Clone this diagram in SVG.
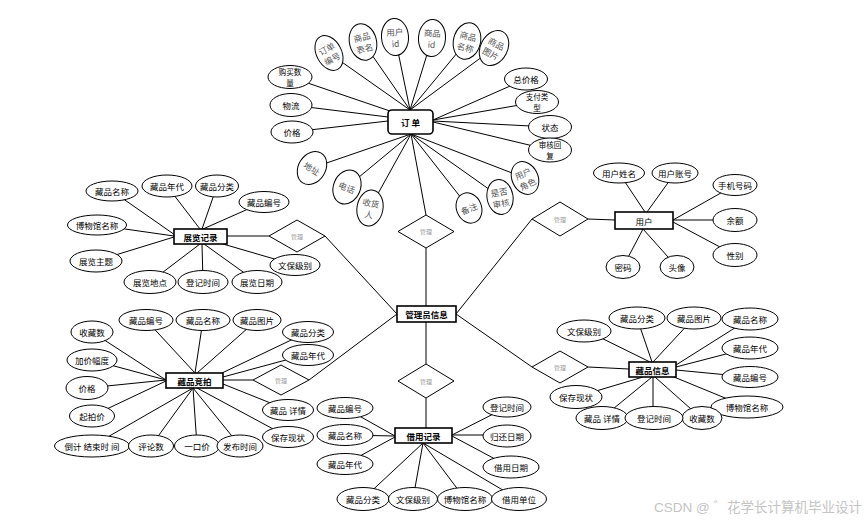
<svg xmlns="http://www.w3.org/2000/svg" width="866" height="521" viewBox="0 0 866 521">
<style>
.e{fill:#fff;stroke:#000;stroke-width:1}
.b{fill:#fff;stroke:#000;stroke-width:1.6}
.d{fill:#fff;stroke:#000;stroke-width:1}
.c line{stroke:#000;stroke-width:1}
text{font-family:"Noto Sans CJK SC","Noto Sans",sans-serif;font-size:8.5px;text-anchor:middle;dominant-baseline:central;fill:#000}
.g{fill:#555;font-size:8.5px}
.s2{font-size:7.5px}
.bt{font-weight:bold;font-size:8.5px}
.dt{fill:#999;font-size:6px}
.wm{font-family:"Liberation Sans","Noto Sans CJK SC",sans-serif;font-size:13.5px;fill:#c4c4c4;text-anchor:end;dominant-baseline:auto}
</style>
<rect width="866" height="521" fill="#fff"/>
<g id="connectors" class="c">
<line x1="329" y1="53" x2="410" y2="110"/>
<line x1="363" y1="42" x2="410" y2="110"/>
<line x1="395" y1="37" x2="410" y2="110"/>
<line x1="432" y1="38" x2="410" y2="110"/>
<line x1="467" y1="41" x2="410" y2="110"/>
<line x1="494" y1="48" x2="410" y2="110"/>
<line x1="290" y1="77" x2="390" y2="111"/>
<line x1="291" y1="105" x2="388" y2="117"/>
<line x1="292" y1="132" x2="388" y2="121"/>
<line x1="526" y1="79" x2="433" y2="120"/>
<line x1="537" y1="102" x2="433" y2="120"/>
<line x1="550" y1="127" x2="433" y2="121"/>
<line x1="550" y1="150" x2="433" y2="122"/>
<line x1="312" y1="168" x2="411" y2="134"/>
<line x1="347" y1="187" x2="411" y2="134"/>
<line x1="370" y1="208" x2="411" y2="134"/>
<line x1="469" y1="208" x2="411" y2="134"/>
<line x1="500" y1="197" x2="411" y2="134"/>
<line x1="525" y1="178" x2="411" y2="134"/>
<line x1="411" y1="134" x2="426" y2="215"/>
<line x1="426" y1="248" x2="426" y2="306"/>
<line x1="426" y1="322" x2="426" y2="364"/>
<line x1="426" y1="398" x2="426" y2="428"/>
<line x1="456" y1="314" x2="532" y2="219"/>
<line x1="456" y1="314" x2="532" y2="367"/>
<line x1="397" y1="314" x2="325" y2="236"/>
<line x1="397" y1="314" x2="309" y2="380"/>
<line x1="112" y1="191" x2="175" y2="235"/>
<line x1="167" y1="186" x2="200" y2="229"/>
<line x1="217" y1="186" x2="202" y2="229"/>
<line x1="264" y1="202" x2="203" y2="229"/>
<line x1="97" y1="225" x2="174" y2="236"/>
<line x1="96" y1="261" x2="174" y2="237"/>
<line x1="150" y1="282" x2="200" y2="244"/>
<line x1="203" y1="282" x2="202" y2="244"/>
<line x1="257" y1="282" x2="204" y2="244"/>
<line x1="295" y1="265" x2="223" y2="244"/>
<line x1="227" y1="236" x2="269" y2="236"/>
<line x1="92" y1="332" x2="166" y2="380"/>
<line x1="146" y1="320" x2="195" y2="373"/>
<line x1="203" y1="320" x2="195" y2="373"/>
<line x1="257" y1="320" x2="197" y2="373"/>
<line x1="308" y1="332" x2="222" y2="373"/>
<line x1="308" y1="354" x2="223" y2="377"/>
<line x1="92" y1="360" x2="166" y2="380"/>
<line x1="87" y1="388" x2="166" y2="380"/>
<line x1="92" y1="416" x2="166" y2="381"/>
<line x1="92" y1="446" x2="193" y2="388"/>
<line x1="151" y1="446" x2="193" y2="388"/>
<line x1="197" y1="446" x2="193" y2="388"/>
<line x1="240" y1="446" x2="193" y2="388"/>
<line x1="288" y1="410" x2="223" y2="384"/>
<line x1="288" y1="437" x2="197" y2="388"/>
<line x1="223" y1="380" x2="253" y2="380"/>
<line x1="345" y1="408" x2="395" y2="436"/>
<line x1="345" y1="435" x2="395" y2="436"/>
<line x1="345" y1="464" x2="395" y2="437"/>
<line x1="363" y1="499" x2="423" y2="443"/>
<line x1="413" y1="499" x2="423" y2="443"/>
<line x1="465" y1="499" x2="423" y2="443"/>
<line x1="518" y1="499" x2="423" y2="443"/>
<line x1="507" y1="407" x2="452" y2="435"/>
<line x1="507" y1="435" x2="452" y2="435"/>
<line x1="510" y1="467" x2="452" y2="436"/>
<line x1="588" y1="219" x2="615" y2="220"/>
<line x1="619" y1="173" x2="645" y2="212"/>
<line x1="675" y1="173" x2="647" y2="212"/>
<line x1="735" y1="185" x2="673" y2="220"/>
<line x1="735" y1="220" x2="673" y2="220"/>
<line x1="735" y1="255" x2="673" y2="222"/>
<line x1="623" y1="267" x2="643" y2="229"/>
<line x1="677" y1="267" x2="643" y2="229"/>
<line x1="588" y1="367" x2="629" y2="369"/>
<line x1="587" y1="331" x2="650" y2="362"/>
<line x1="637" y1="318" x2="652" y2="362"/>
<line x1="694" y1="318" x2="653" y2="362"/>
<line x1="749" y1="319" x2="676" y2="365"/>
<line x1="749" y1="348" x2="676" y2="367"/>
<line x1="749" y1="377" x2="676" y2="370"/>
<line x1="747" y1="407" x2="674" y2="377"/>
<line x1="576" y1="397" x2="643" y2="377"/>
<line x1="602" y1="418" x2="652" y2="377"/>
<line x1="653" y1="418" x2="653" y2="377"/>
<line x1="701" y1="418" x2="655" y2="377"/>
</g>

<g id="order">
<rect class="b" x="388" y="110" width="45" height="24" rx="4"/>
<text class="bt" x="410.5" y="122">订 单</text>
</g>
<g id="o-ddbh" transform="translate(329,53) rotate(-28)"><ellipse class="e" rx="12.5" ry="18.5"/><text class="g" y="-5.5">订单</text><text class="g" y="6">编号</text></g>
<g id="o-spbm" transform="translate(363,42) rotate(-14)"><ellipse class="e" rx="13.5" ry="18.5"/><text class="g" y="-5.5">商品</text><text class="g" y="6">表名</text></g>
<g id="o-yhid" transform="translate(395,37) rotate(-4)"><ellipse class="e" rx="13.5" ry="18.5"/><text class="g" y="-5.5">用户</text><text class="g" y="6">id</text></g>
<g id="o-spid" transform="translate(432,38) rotate(4)"><ellipse class="e" rx="13.5" ry="18.5"/><text class="g" y="-5.5">商品</text><text class="g" y="6">id</text></g>
<g id="o-spmc" transform="translate(467,41) rotate(14)"><ellipse class="e" rx="13.5" ry="18.5"/><text class="g" y="-5.5">商品</text><text class="g" y="6">名称</text></g>
<g id="o-sptp" transform="translate(494,48) rotate(28)"><ellipse class="e" rx="13.5" ry="18.5"/><text class="g" y="-5.5">商品</text><text class="g" y="6">图片</text></g>
<g id="o-gmsl"><ellipse class="e" cx="290" cy="77" rx="22" ry="11.5"/><text class="s2" x="290" y="71.5">购买数</text><text class="s2" x="290" y="82.5">量</text></g>
<g id="o-wl"><ellipse class="e" cx="291" cy="105" rx="21" ry="11.5"/><text x="291" y="105">物流</text></g>
<g id="o-jg"><ellipse class="e" cx="292" cy="132" rx="21" ry="11"/><text x="292" y="132">价格</text></g>
<g id="o-zjg"><ellipse class="e" cx="526" cy="79" rx="21.5" ry="11"/><text x="526" y="79">总价格</text></g>
<g id="o-zflx"><ellipse class="e" cx="537" cy="102" rx="21.5" ry="11.5"/><text class="s2" x="537" y="96.5">支付类</text><text class="s2" x="537" y="107.5">型</text></g>
<g id="o-zt"><ellipse class="e" cx="550" cy="127" rx="21.5" ry="11.5"/><text x="550" y="127">状态</text></g>
<g id="o-shhf"><ellipse class="e" cx="550" cy="150" rx="21.5" ry="12"/><text class="s2" x="550" y="144.5">审核回</text><text class="s2" x="550" y="155.5">复</text></g>
<g id="o-dz" transform="translate(312,168) rotate(32)"><ellipse class="e" rx="13.5" ry="17.5"/><text class="g">地址</text></g>
<g id="o-dh" transform="translate(347,187) rotate(22)"><ellipse class="e" rx="13.5" ry="17.5"/><text class="g">电话</text></g>
<g id="o-shr" transform="translate(370,208) rotate(10)"><ellipse class="e" rx="13" ry="18"/><text class="g" y="-5.5">收货</text><text class="g" y="6">人</text></g>
<g id="o-bz" transform="translate(469,208) rotate(-22)"><ellipse class="e" rx="12.5" ry="15.5"/><text class="g">备注</text></g>
<g id="o-sfsh" transform="translate(500,197) rotate(-10)"><ellipse class="e" rx="13" ry="17.5"/><text class="g" y="-5.5">是否</text><text class="g" y="6">审核</text></g>
<g id="o-yhjs" transform="translate(525,178) rotate(-25)"><ellipse class="e" rx="13" ry="17"/><text class="g" y="-5.5">用户</text><text class="g" y="6">角色</text></g>
<g id="r-order"><polygon class="d" points="426,215 454,231.5 426,248 398,231.5"/><text class="dt" x="426" y="231.5">管理</text></g>

<g id="admin"><rect class="b" x="397" y="306" width="59" height="16"/><text class="bt" x="426.5" y="314">管理员信息</text></g>
<g id="r-borrow"><polygon class="d" points="426,364 454,381 426,398 398,381"/><text class="dt" x="426" y="381">管理</text></g>

<g id="r-user"><polygon class="d" points="560,202 588,219 560,236 532,219"/><text class="dt" x="560" y="219">管理</text></g>
<g id="user"><rect class="b" x="615" y="212" width="58" height="17"/><text x="644" y="220.5">用户</text></g>
<g id="u-xm"><ellipse class="e" cx="619" cy="173" rx="25.5" ry="10"/><text x="619" y="173">用户姓名</text></g>
<g id="u-zh"><ellipse class="e" cx="675" cy="173" rx="23" ry="10"/><text x="675" y="173">用户账号</text></g>
<g id="u-sj"><ellipse class="e" cx="735" cy="185" rx="22" ry="10.5"/><text x="735" y="185">手机号码</text></g>
<g id="u-ye"><ellipse class="e" cx="735" cy="220" rx="22" ry="11.5"/><text x="735" y="220">余额</text></g>
<g id="u-xb"><ellipse class="e" cx="735" cy="255" rx="22" ry="11.5"/><text x="735" y="255">性别</text></g>
<g id="u-mm"><ellipse class="e" cx="623" cy="267" rx="17" ry="11.5"/><text x="623" y="267">密码</text></g>
<g id="u-tx"><ellipse class="e" cx="677" cy="267" rx="17" ry="11.5"/><text x="677" y="267">头像</text></g>

<g id="r-exhibit"><polygon class="d" points="297,220 325,236 297,252 269,236"/><text class="dt" x="297" y="236">管理</text></g>
<g id="exhibit"><rect class="b" x="174" y="229" width="53" height="15"/><text class="bt" x="200.5" y="236.5">展览记录</text></g>
<g id="x-mc"><ellipse class="e" cx="112" cy="191" rx="26" ry="10"/><text x="112" y="191">藏品名称</text></g>
<g id="x-nd"><ellipse class="e" cx="167" cy="186" rx="25" ry="11"/><text x="167" y="186">藏品年代</text></g>
<g id="x-fl"><ellipse class="e" cx="217" cy="186" rx="21.5" ry="11"/><text x="217" y="186">藏品分类</text></g>
<g id="x-bh"><ellipse class="e" cx="264" cy="202" rx="25" ry="10.5"/><text x="264" y="202">藏品编号</text></g>
<g id="x-bwg"><ellipse class="e" cx="97" cy="225" rx="29.5" ry="10"/><text x="97" y="225">博物馆名称</text></g>
<g id="x-zt"><ellipse class="e" cx="96" cy="261" rx="26" ry="11"/><text x="96" y="261">展览主题</text></g>
<g id="x-dd"><ellipse class="e" cx="150" cy="282" rx="26" ry="11.5"/><text x="150" y="282">展览地点</text></g>
<g id="x-djsj"><ellipse class="e" cx="203" cy="282" rx="25" ry="11.5"/><text x="203" y="282">登记时间</text></g>
<g id="x-rq"><ellipse class="e" cx="257" cy="282" rx="25" ry="11.5"/><text x="257" y="282">展览日期</text></g>
<g id="x-wb"><ellipse class="e" cx="295" cy="265" rx="25" ry="10.5"/><text x="295" y="265">文保级别</text></g>

<g id="r-auction"><polygon class="d" points="281,365 309,380 281,395 253,380"/><text class="dt" x="281" y="380">管理</text></g>
<g id="auction"><rect class="b" x="166" y="373" width="57" height="15"/><text class="bt" x="194.5" y="380.5">藏品竞拍</text></g>
<g id="a-scs"><ellipse class="e" cx="92" cy="332" rx="21" ry="11"/><text x="92" y="332">收藏数</text></g>
<g id="a-bh"><ellipse class="e" cx="146" cy="320" rx="27" ry="10.5"/><text x="146" y="320">藏品编号</text></g>
<g id="a-mc"><ellipse class="e" cx="203" cy="320" rx="27" ry="10.5"/><text x="203" y="320">藏品名称</text></g>
<g id="a-tp"><ellipse class="e" cx="257" cy="320" rx="24" ry="10.5"/><text x="257" y="320">藏品图片</text></g>
<g id="a-fl"><ellipse class="e" cx="308" cy="332" rx="25.5" ry="10.5"/><text x="308" y="332">藏品分类</text></g>
<g id="a-nd"><ellipse class="e" cx="308" cy="355" rx="25.5" ry="10.5"/><text x="308" y="355">藏品年代</text></g>
<g id="a-jjfd"><ellipse class="e" cx="92" cy="360" rx="25" ry="11"/><text x="92" y="360">加价幅度</text></g>
<g id="a-jg"><ellipse class="e" cx="87" cy="388" rx="21" ry="11.5"/><text x="87" y="388">价格</text></g>
<g id="a-qpj"><ellipse class="e" cx="92" cy="416" rx="22.5" ry="11"/><text x="92" y="416">起拍价</text></g>
<g id="a-djs"><ellipse class="e" cx="92" cy="446" rx="37.5" ry="11"/><text x="92" y="446">倒计 结束时 间</text></g>
<g id="a-pls"><ellipse class="e" cx="151" cy="446" rx="22.5" ry="11"/><text x="151" y="446">评论数</text></g>
<g id="a-ykj"><ellipse class="e" cx="197" cy="446" rx="22.5" ry="11"/><text x="197" y="446">一口价</text></g>
<g id="a-fbsj"><ellipse class="e" cx="240" cy="446" rx="23" ry="11"/><text x="240" y="446">发布时间</text></g>
<g id="a-xq"><ellipse class="e" cx="288" cy="410" rx="25.5" ry="10.5"/><text x="288" y="410">藏品 详情</text></g>
<g id="a-bcxz"><ellipse class="e" cx="288" cy="437" rx="25.5" ry="10.5"/><text x="288" y="437">保存现状</text></g>

<g id="borrow"><rect class="b" x="395" y="428" width="57" height="15"/><text class="bt" x="423.5" y="435.5">借用记录</text></g>
<g id="b-bh"><ellipse class="e" cx="345" cy="408" rx="28" ry="10.5"/><text x="345" y="408">藏品编号</text></g>
<g id="b-mc"><ellipse class="e" cx="345" cy="435" rx="28" ry="10.5"/><text x="345" y="435">藏品名称</text></g>
<g id="b-nd"><ellipse class="e" cx="345" cy="464" rx="28" ry="10.5"/><text x="345" y="464">藏品年代</text></g>
<g id="b-fl"><ellipse class="e" cx="363" cy="499" rx="26" ry="11.5"/><text x="363" y="499">藏品分类</text></g>
<g id="b-wb"><ellipse class="e" cx="413" cy="499" rx="24.5" ry="11.5"/><text x="413" y="499">文保级别</text></g>
<g id="b-bwg"><ellipse class="e" cx="465" cy="499" rx="27.5" ry="11.5"/><text x="465" y="499">博物馆名称</text></g>
<g id="b-dw"><ellipse class="e" cx="519" cy="499" rx="27.5" ry="11.5"/><text x="519" y="499">借用单位</text></g>
<g id="b-djsj"><ellipse class="e" cx="507" cy="407" rx="24" ry="10"/><text x="507" y="407">登记时间</text></g>
<g id="b-ghrq"><ellipse class="e" cx="507" cy="436" rx="24" ry="11"/><text x="507" y="436">归还日期</text></g>
<g id="b-jyrq"><ellipse class="e" cx="511" cy="467" rx="28" ry="11"/><text x="511" y="467">借用日期</text></g>

<g id="r-product"><polygon class="d" points="560,351 588,367 560,383 532,367"/><text class="dt" x="560" y="367">管理</text></g>
<g id="product"><rect class="b" x="629" y="362" width="47" height="15"/><text class="bt" x="652.5" y="369.5">藏品信息</text></g>
<g id="p-wb"><ellipse class="e" cx="584" cy="331" rx="27" ry="11"/><text x="584" y="331">文保级别</text></g>
<g id="p-fl"><ellipse class="e" cx="637" cy="318" rx="28" ry="11"/><text x="637" y="318">藏品分类</text></g>
<g id="p-tp"><ellipse class="e" cx="694" cy="318" rx="27" ry="11"/><text x="694" y="318">藏品图片</text></g>
<g id="p-mc"><ellipse class="e" cx="750" cy="319" rx="28" ry="11"/><text x="750" y="319">藏品名称</text></g>
<g id="p-nd"><ellipse class="e" cx="750" cy="348" rx="28" ry="11"/><text x="750" y="348">藏品年代</text></g>
<g id="p-bh"><ellipse class="e" cx="750" cy="377" rx="28" ry="10.5"/><text x="750" y="377">藏品编号</text></g>
<g id="p-bwg"><ellipse class="e" cx="747" cy="407" rx="36" ry="11"/><text x="747" y="407">博物馆名称</text></g>
<g id="p-bcxz"><ellipse class="e" cx="576" cy="397" rx="26" ry="11.5"/><text x="576" y="397">保存现状</text></g>
<g id="p-xq"><ellipse class="e" cx="602" cy="418" rx="26" ry="11.5"/><text x="602" y="418">藏品 详情</text></g>
<g id="p-scs"><ellipse class="e" cx="702" cy="418" rx="20" ry="11.5"/><text x="702" y="418">收藏数</text></g>
<g id="p-djsj"><ellipse class="e" cx="654" cy="418" rx="29" ry="11.5"/><text x="654" y="418">登记时间</text></g>

<text class="wm" x="862" y="512">CSDN @ ゛花学长计算机毕业设计</text>
</svg>
